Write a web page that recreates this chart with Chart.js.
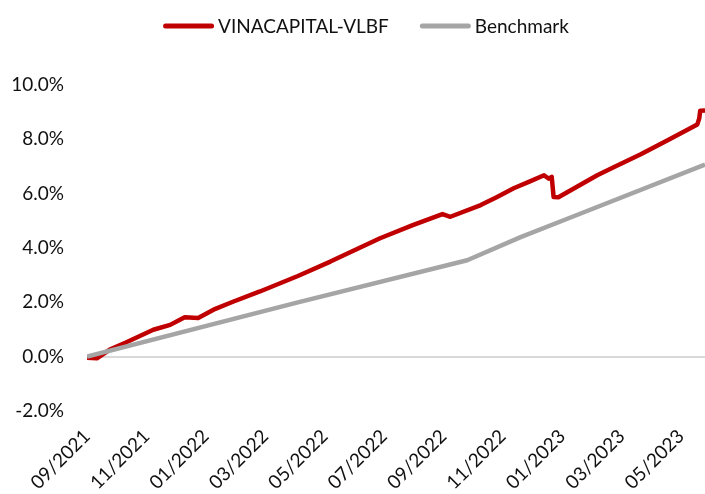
<!DOCTYPE html>
<html>
<head>
<meta charset="utf-8">
<script src="https://cdn.jsdelivr.net/npm/chart.js@4"></script>
<style>
  html, body { margin: 0; padding: 0; background: #ffffff; }
  #wrap { width: 705px; height: 494px; position: relative; }
</style>
</head>
<body>
<div id="wrap"><canvas id="c" width="705" height="494"></canvas></div>
<script>
// ---- Data ----
const seriesNames = ['VINACAPITAL-VLBF', 'Benchmark'];

const fundDates = ['2021-09-01','2021-09-11','2021-09-24','2021-10-10','2021-11-08','2021-11-25',
  '2021-12-06','2021-12-10','2021-12-24','2022-01-11','2022-01-30','2022-02-24','2022-04-04',
  '2022-05-07','2022-06-27','2022-07-31','2022-08-31','2022-09-08','2022-10-09','2022-10-26',
  '2022-11-12','2022-11-29','2022-12-13','2022-12-18','2022-12-21','2022-12-23','2022-12-28',
  '2023-02-06','2023-02-21','2023-03-21','2023-04-17','2023-05-18','2023-05-20','2023-05-21',
  '2023-05-26'];
const fundValues = [-0.04,-0.06,0.26,0.51,0.99,1.17,
  1.38,1.45,1.42,1.76,2.03,2.40,2.97,
  3.50,4.36,4.84,5.25,5.15,5.58,5.88,
  6.20,6.46,6.68,6.55,6.62,5.88,5.87,
  6.68,6.96,7.45,7.96,8.55,8.77,9.05,
  9.06];

const benchDates = ['2021-09-01','2022-04-04','2022-09-25','2022-11-19','2023-01-11','2023-05-26'];
const benchValues = [0.00,2.00,3.55,4.40,5.14,7.07];

const xTickLabels = ['09/2021','11/2021','01/2022','03/2022','05/2022','07/2022','09/2022',
  '11/2022','01/2023','03/2023','05/2023'];
const yTicks = [-2, 0, 2, 4, 6, 8, 10];

// ---- helpers: date -> months since 2021-09-01 ----
function toMonths(s) {
  const [y, mo, d] = s.split('-').map(Number);
  const dim = new Date(y, mo, 0).getDate();
  return (y - 2021) * 12 + (mo - 9) + (d - 1) / dim;
}
function labelToMonths(l) {
  const [mo, y] = l.split('/').map(Number);
  return (y - 2021) * 12 + (mo - 9);
}
const fundPoints = fundDates.map((d, i) => ({ x: toMonths(d), y: fundValues[i] }));
const benchPoints = benchDates.map((d, i) => ({ x: toMonths(d), y: benchValues[i] }));
const xTickValues = xTickLabels.map(labelToMonths);
const xMin = Math.min(toMonths(fundDates[0]), toMonths(benchDates[0]));
const xMax = Math.max(toMonths(fundDates[fundDates.length - 1]), toMonths(benchDates[benchDates.length - 1]));

const FONT = 'Lato, "Open Sans", "DejaVu Sans", sans-serif';
const FONT_SIZE = 19;

// custom legend drawn on canvas with dataset labels/colors
const lineLegend = {
  id: 'lineLegend',
  afterDraw(chart) {
    const ctx = chart.ctx;
    const ds = chart.data.datasets;
    ctx.save();
    ctx.font = FONT_SIZE + 'px ' + FONT;
    const lineLen = 51, gap = 4, spacing = 31;
    const widths = ds.map(d => ctx.measureText(d.label).width);
    let total = 0;
    widths.forEach((w, i) => { total += lineLen + gap + w + (i < ds.length - 1 ? spacing : 0); });
    let x = 366 - total / 2;
    const y = 26;
    ds.forEach((d, i) => {
      ctx.beginPath();
      ctx.lineCap = 'round';
      ctx.lineWidth = 5;
      ctx.strokeStyle = d.borderColor;
      ctx.moveTo(x + 2.5, y);
      ctx.lineTo(x + lineLen - 2.5, y);
      ctx.stroke();
      ctx.fillStyle = '#111111';
      ctx.textBaseline = 'middle';
      ctx.textAlign = 'left';
      ctx.fillText(d.label, x + lineLen + gap, y + 1);
      x += lineLen + gap + widths[i] + spacing;
    });
    ctx.restore();
  }
};

new Chart(document.getElementById('c'), {
  type: 'line',
  data: {
    datasets: [
      {
        label: seriesNames[0],
        data: fundPoints,
        borderColor: '#c00000',
        backgroundColor: '#c00000',
        borderWidth: 4.5,
        pointRadius: 0,
        tension: 0,
        borderJoinStyle: 'round',
        order: 1
      },
      {
        label: seriesNames[1],
        data: benchPoints,
        borderColor: '#a5a5a5',
        backgroundColor: '#a5a5a5',
        borderWidth: 4.5,
        pointRadius: 0,
        tension: 0,
        borderJoinStyle: 'round',
        order: 0
      }
    ]
  },
  options: {
    responsive: false,
    animation: false,
    devicePixelRatio: 1,
    layout: { padding: { top: 85, left: 0, right: 0, bottom: 0 } },
    plugins: {
      legend: { display: false },
      tooltip: { enabled: false }
    },
    scales: {
      x: {
        type: 'linear',
        min: xMin,
        max: xMax,
        grid: { display: false, drawTicks: false },
        border: { display: false },
        afterBuildTicks: (scale) => { scale.ticks = xTickValues.map(v => ({ value: v })); },
        afterFit: (scale) => { scale.height = 83; scale.paddingRight = 0; scale.paddingLeft = 0; },
        ticks: {
          autoSkip: false,
          minRotation: 45,
          maxRotation: 45,
          padding: 14,
          color: '#111111',
          font: { family: FONT, size: FONT_SIZE },
          callback: (v) => {
            const i = xTickValues.indexOf(v);
            return i >= 0 ? xTickLabels[i] : '';
          }
        }
      },
      y: {
        min: -2,
        max: 10,
        afterBuildTicks: (scale) => { scale.ticks = yTicks.map(v => ({ value: v })); },
        afterFit: (scale) => { scale.width = 87; scale.paddingTop = 0; scale.paddingBottom = 0; },
        grid: {
          drawTicks: false,
          lineWidth: 2,
          color: (c) => (c.tick && c.tick.value === 0 ? '#d9d9d9' : 'rgba(0,0,0,0)')
        },
        border: { display: false },
        ticks: {
          padding: 23,
          color: '#111111',
          font: { family: FONT, size: FONT_SIZE },
          callback: (v) => v.toFixed(1) + '%'
        }
      }
    }
  },
  plugins: [lineLegend]
});
</script>
</body>
</html>
